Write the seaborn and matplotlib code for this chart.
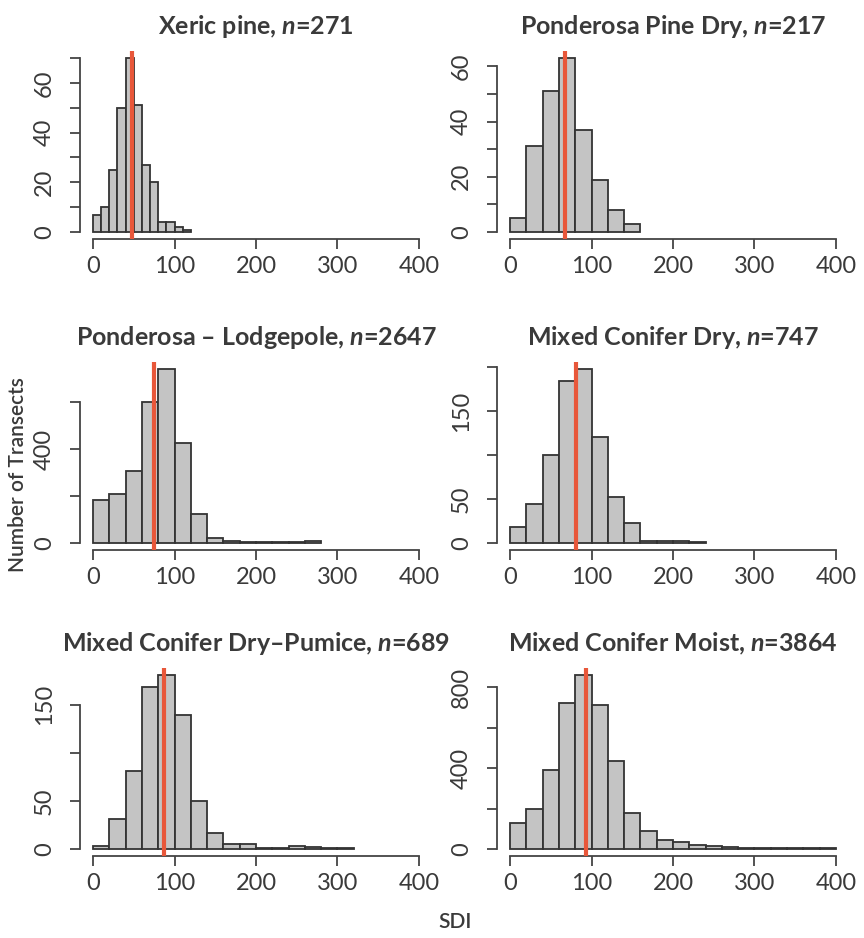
import numpy as np
import matplotlib
matplotlib.use("Agg")
import matplotlib.pyplot as plt
import seaborn as sns

# bin counts (bins start at 0)
titles = ["Xeric pine", "Ponderosa Pine Dry", "Ponderosa \u2013 Lodgepole",
          "Mixed Conifer Dry", "Mixed Conifer Dry\u2013Pumice", "Mixed Conifer Moist"]
n_values = [271, 217, 2647, 747, 689, 3864]
bin_widths = [10, 20, 20, 20, 20, 20]

xeric = [7, 10, 25, 50, 70, 51, 27, 20, 4, 4, 2, 1]
pp_dry = [5, 31, 51, 63, 37, 19, 8, 3]
pp_lodge = [185, 208, 305, 600, 740, 425, 125, 22, 10, 6, 4, 4, 4, 9]
mc_dry = [18, 44, 100, 184, 198, 121, 52, 23, 2, 2, 2, 1]
mc_pumice = [3, 31, 81, 168, 181, 139, 50, 17, 5, 5, 1, 1, 3, 2, 1, 1]
mc_moist = [130, 200, 390, 720, 860, 710, 433, 177, 88, 46, 36, 20, 16, 11,
            7, 6, 5, 3, 3, 3]
counts = [xeric, pp_dry, pp_lodge, mc_dry, mc_pumice, mc_moist]

means = [48, 68, 75, 81, 87, 93]

y_ticks = [np.arange(0, 71, 10), np.arange(0, 61, 10), [0, 200, 400, 600],
           [0, 50, 100, 150, 200], [0, 50, 100, 150], [0, 200, 400, 600, 800]]
y_labels = [[0, 20, 40, 60], [0, 20, 40, 60], [0, 400],
            [0, 50, 150], [0, 50, 150], [0, 400, 800]]

sns.set_style("ticks")
plt.rcParams["font.family"] = ["Lato", "DejaVu Sans"]
plt.rcParams["mathtext.fontset"] = "custom"
plt.rcParams["mathtext.it"] = "Lato:italic:bold"
plt.rcParams["mathtext.rm"] = "Lato:bold"

textcol = "#3a3a3a"
linecol = "#444444"

fig = plt.figure(figsize=(8.64, 9.38), dpi=100)
W, H = 864.0, 938.0
lefts = [80, 497]
tops = [51, 362, 668]
aw, ah = 352, 188

for i in range(6):
    row, col = divmod(i, 2)
    ax = fig.add_axes([lefts[col] / W, 1 - (tops[row] + ah) / H, aw / W, ah / H])
    c = counts[i]
    bw = bin_widths[i]
    centers = np.arange(len(c)) * bw + bw / 2
    sns.histplot(x=centers, weights=c, binwidth=bw, binrange=(0, len(c) * bw),
                 ax=ax, color="#c4c4c4", edgecolor="#333333", linewidth=1.3,
                 alpha=1)
    ymax = max(c)
    ax.set_xlim(-16, 416)
    ax.set_ylim(-0.04 * ymax, 1.04 * ymax)
    ax.axvline(means[i], color="#e8573a", lw=3, zorder=5)
    ax.set_xticks([0, 100, 200, 300, 400])
    ax.set_yticks(y_ticks[i])
    ax.set_yticklabels([str(t) if t in y_labels[i] else "" for t in y_ticks[i]],
                       rotation=90, va="center")
    ax.spines["left"].set_bounds(0, y_ticks[i][-1])
    ax.spines["bottom"].set_bounds(0, 400)
    for s in ["top", "right"]:
        ax.spines[s].set_visible(False)
    for s in ["left", "bottom"]:
        ax.spines[s].set_color(linecol)
        ax.spines[s].set_linewidth(1.3)
    ax.tick_params(axis="x", length=7, width=1.3, color=linecol, pad=5,
                   labelsize=17, labelcolor=textcol)
    ax.tick_params(axis="y", length=7, width=1.3, color=linecol, pad=11,
                   labelsize=17, labelcolor=textcol)
    ax.set_xlabel("")
    ax.set_ylabel("")
    ax.set_title(titles[i] + ", $\\mathit{n}$=" + str(n_values[i]),
                 fontsize=18, fontweight="bold", color=textcol, pad=12)

fig.text(18 / W, 1 - 475 / H, "Number of Transects", rotation=90,
         ha="center", va="center", fontsize=15, fontweight="semibold",
         color=textcol)
fig.text(455 / W, 1 - 922 / H, "SDI", ha="center", va="center",
         fontsize=15, fontweight="semibold", color=textcol)

fig.savefig("out.png", dpi=100)
